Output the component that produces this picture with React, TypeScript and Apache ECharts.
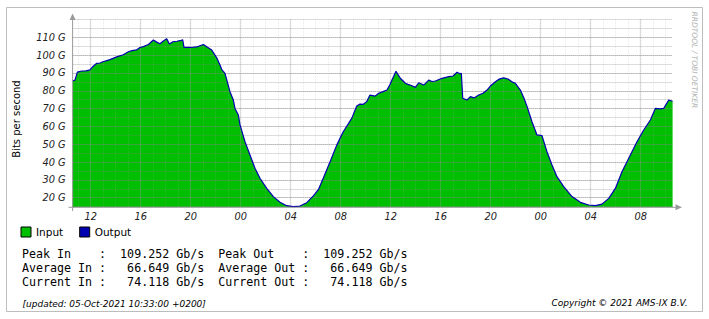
import React, { useEffect, useRef } from "react";
import * as echarts from "echarts";

// Time in hours since 03-Oct-2021 00:00, traffic in Gb/s
const hours = [
  10.55, 10.74, 10.93, 11.28, 11.62, 11.94, 12.16, 12.48, 12.74, 12.98, 13.54, 14.08, 14.6, 15.01, 15.3, 15.68,
  15.94, 16.21, 16.61, 17.01, 17.28, 17.54, 17.78, 18.08, 18.29, 18.58, 18.9, 19.14, 19.36, 19.46, 19.94, 20.48,
  20.74, 21.01, 21.28, 21.68, 22.08, 22.34, 22.5, 22.74, 23.14, 23.41, 23.54, 23.81, 23.94, 24.34, 24.74, 25.14,
  25.54, 26.08, 26.61, 27.14, 27.68, 28.21, 28.74, 29.28, 29.81, 30.21, 30.61, 31.14, 31.68, 32.2, 32.88, 33.28,
  33.54, 33.8, 34.08, 34.34, 34.74, 35.04, 35.38, 35.7, 35.94, 36.1, 36.42, 36.77, 37.17, 37.38, 37.7, 37.97,
  38.24, 38.64, 39.04, 39.3, 39.57, 40.1, 40.64, 40.99, 41.3, 41.54, 41.65, 41.76, 42.1, 42.37, 42.66, 43.04,
  43.38, 43.7, 44.02, 44.37, 44.66, 45.04, 45.38, 45.7, 45.97, 46.37, 46.66, 46.91, 47.3, 47.7, 48.1, 48.5,
  48.9, 49.3, 49.84, 50.5, 51.17, 51.84, 52.37, 52.9, 53.44, 53.97, 54.5, 55.04, 55.7, 56.24, 56.77, 57.17,
  57.54, 57.84, 58.24, 58.55,
];
const gbps = [
  85.5, 86.0, 90.5, 91.1, 91.2, 91.7, 93.5, 95.4, 95.6, 96.3, 97.5, 99.0, 100.2, 101.9, 102.5, 103.0,
  104.3, 104.8, 106.0, 108.5, 107.3, 106.4, 107.8, 109.25, 106.2, 107.5, 107.8, 108.1, 108.6, 104.4, 104.3, 104.6,
  105.3, 106.0, 104.7, 102.9, 98.5, 94.5, 91.7, 89.8, 79.5, 74.8, 70.1, 66.4, 61.0, 51.4, 44.0, 36.5,
  30.9, 25.2, 20.6, 17.4, 15.5, 15.0, 15.3, 17.2, 21.0, 24.5, 31.0, 40.0, 49.5, 57.0, 64.5, 71.5,
  72.5, 72.4, 73.9, 77.6, 77.0, 78.6, 79.5, 80.4, 83.5, 86.0, 90.9, 87.0, 84.2, 83.6, 82.8, 81.9,
  84.5, 83.2, 86.0, 85.2, 85.5, 87.0, 87.9, 88.3, 90.4, 89.5, 89.8, 75.8, 74.8, 76.7, 76.0, 77.6,
  78.6, 80.4, 83.0, 85.1, 86.5, 87.2, 86.6, 85.0, 84.2, 80.4, 75.8, 71.1, 62.6, 55.2, 54.8, 45.8,
  38.3, 31.8, 26.2, 20.6, 17.4, 15.9, 15.5, 16.4, 19.6, 25.2, 34.6, 42.1, 51.4, 58.0, 63.6, 70.1,
  69.8, 70.1, 74.8, 74.1,
];

const xTickLabels = ["12", "16", "20", "00", "04", "08", "12", "16", "20", "00", "04", "08"];
const yTickLabels = ["20 G", "30 G", "40 G", "50 G", "60 G", "70 G", "80 G", "90 G", "100 G", "110 G"];
const seriesNames = ["Input", "Output"];
const statNames = ["Peak", "Average", "Current"];
const inValues = ["109.252", "66.649", "74.118"];
const outValues = ["109.252", "66.649", "74.118"];
const updatedText = "[updated: 05-Oct-2021 10:33:00 +0200]";
const copyrightText = "Copyright \u00A9 2021 AMS-IX B.V.";
const sideText = "RRDTOOL / TOBI OETIKER";
const yTitle = "Bits per second";

// range
const T_START = 10.55;
const T_END = 58.55;
const Y_MIN = 14.6;
const Y_MAX = 120;

// layout
const PL = 72.6;
const PT = 19.5;
const PW = 600;
const PH = 187.8;
const pph = PW / (T_END - T_START);
const ppg = PH / (Y_MAX - Y_MIN);

const GREEN = "#00bf00";
const BLUE = "#0000b0";
const AXIS = "#9a9a9a";

export default function App() {
  const ref = useRef<HTMLDivElement>(null);
  useEffect(() => {
    if (!ref.current) return;
    const chart = echarts.init(ref.current, null, { renderer: "svg" });
    const data = hours.map((h, i) => [h, gbps[i]]);
    const nb = (s: string) => s.replace(/ /g, "\u00A0");
    const rows = statNames.map((n, i) =>
      nb(
        `${(n + " In").padEnd(11)}:${inValues[i].padStart(9)} Gb/s  ${(n + " Out").padEnd(12)}:${outValues[i].padStart(9)} Gb/s`
      )
    );
    const tickFont = { fontFamily: "DejaVu Sans", fontStyle: "italic" as const, fontSize: 9.8, color: "#222" };
    const hGrid = { color: "rgba(130,130,130,0.55)", width: 1, type: [1, 1] as number[] };

    const option: any = {
      animation: false,
      grid: [
        { left: PL, top: PT, width: PW, height: PH, outerBoundsMode: "none", containLabel: false },
        { left: PL + (11 - T_START) * pph, top: PT, width: (58 - 11) * pph, height: PH, outerBoundsMode: "none" },
        { left: PL + (12 - T_START) * pph, top: PT, width: (56 - 12) * pph, height: PH, outerBoundsMode: "none" },
        { left: PL, top: PT, width: PW, height: (Y_MAX - 15) * ppg, outerBoundsMode: "none" },
        { left: PL, top: PT + (Y_MAX - 110) * ppg, width: PW, height: (110 - 20) * ppg, outerBoundsMode: "none" },
      ],
      xAxis: [
        { gridIndex: 0, type: "value", min: T_START, max: T_END, show: false },
        {
          gridIndex: 1, type: "value", min: 11, max: 58, interval: 1, z: 3,
          axisLine: { show: false }, axisTick: { show: false }, axisLabel: { show: false },
          splitLine: { show: true, lineStyle: { color: "rgba(170,170,170,0.38)", width: 1, type: [1, 2] } },
        },
        {
          gridIndex: 2, type: "value", min: 12, max: 56, interval: 4, z: 3,
          axisLine: { show: false }, axisTick: { show: false },
          axisLabel: {
            show: true, margin: 4, ...tickFont,
            formatter: (v: number) => xTickLabels[Math.round((v - 12) / 4)] ?? "",
          },
          splitLine: { show: true, lineStyle: { color: "rgba(150,150,150,0.5)", width: 1.4, type: [1, 1] } },
        },
        { gridIndex: 3, type: "value", min: 0, max: 1, show: false },
        { gridIndex: 4, type: "value", min: 0, max: 1, show: false },
      ],
      yAxis: [
        { gridIndex: 0, type: "value", min: Y_MIN, max: Y_MAX, show: false },
        { gridIndex: 1, type: "value", min: 0, max: 1, show: false },
        { gridIndex: 2, type: "value", min: 0, max: 1, show: false },
        {
          gridIndex: 3, type: "value", min: 15, max: 120, interval: 5, z: 3,
          axisLine: { show: false }, axisTick: { show: false }, axisLabel: { show: false },
          splitLine: { show: true, lineStyle: hGrid },
        },
        {
          gridIndex: 4, type: "value", min: 20, max: 110, interval: 10, z: 3,
          axisLine: { show: false }, axisTick: { show: false },
          axisLabel: {
            show: true, margin: 7, ...tickFont,
            formatter: (v: number) => yTickLabels[Math.round((v - 20) / 10)] ?? "",
          },
          splitLine: { show: true, lineStyle: hGrid },
        },
      ],
      legend: {
        data: seriesNames,
        left: 20.5, top: 226.5, padding: 0,
        itemWidth: 10, itemHeight: 10, itemGap: 16, icon: "rect",
        itemStyle: { borderColor: "#000", borderWidth: 1 },
        textStyle: { fontFamily: "DejaVu Sans", fontSize: 10.5, color: "#000" },
      },
      series: [
        {
          name: seriesNames[0], type: "line", xAxisIndex: 0, yAxisIndex: 0, data,
          showSymbol: false, color: GREEN, z: 2,
          lineStyle: { width: 0, color: GREEN },
          areaStyle: { color: GREEN, opacity: 1, origin: "start" },
        },
        {
          name: seriesNames[1], type: "line", xAxisIndex: 0, yAxisIndex: 0, data,
          showSymbol: false, color: BLUE, z: 5,
          lineStyle: { width: 1.2, color: BLUE },
        },
      ],
      graphic: [
        { type: "rect", shape: { x: 6.5, y: 7.5, width: 696, height: 304 }, style: { fill: "none", stroke: "#bdbdbd", lineWidth: 1 }, z: 10 },
        { type: "line", shape: { x1: PL, y1: 19, x2: PL, y2: 211 }, style: { stroke: AXIS, lineWidth: 1 }, z: 10 },
        { type: "polygon", shape: { points: [[PL - 3, 20], [PL + 3, 20], [PL, 13.5]] }, style: { fill: AXIS }, z: 10 },
        { type: "line", shape: { x1: 68.5, y1: PT + PH, x2: 676, y2: PT + PH }, style: { stroke: AXIS, lineWidth: 1 }, z: 10 },
        { type: "polygon", shape: { points: [[675.5, PT + PH - 3], [675.5, PT + PH + 3], [682, PT + PH]] }, style: { fill: AXIS }, z: 10 },
        {
          type: "text", x: 16, y: 119, rotation: Math.PI / 2, z: 10,
          style: { text: yTitle, fill: "#000", font: '10px "DejaVu Sans"', textAlign: "center", textVerticalAlign: "middle" },
        },
        {
          type: "text", x: 694.5, y: 11.5, rotation: -Math.PI / 2, z: 10,
          style: { text: sideText, fill: "#b0b0b0", font: 'italic 7.5px "DejaVu Sans"', textAlign: "left", textVerticalAlign: "middle" },
        },
        ...rows.map((r, i) => ({
          type: "text", x: 22, y: 253.5 + i * 14, z: 10,
          style: { text: r, fill: "#000", font: '11.65px "DejaVu Sans Mono"', textAlign: "left", textVerticalAlign: "middle" },
        })),
        {
          type: "text", x: 22.5, y: 303.5, z: 10,
          style: { text: updatedText, fill: "#000", font: 'italic 9px "DejaVu Sans"', textAlign: "left", textVerticalAlign: "middle" },
        },
        {
          type: "text", x: 687.5, y: 303, z: 10,
          style: { text: copyrightText, fill: "#000", font: 'italic 9px "DejaVu Sans"', textAlign: "right", textVerticalAlign: "middle" },
        },
      ],
    };
    chart.setOption(option);
    return () => chart.dispose();
  }, []);
  return <div ref={ref} style={{ position: "absolute", left: 0, top: 0, width: 709, height: 319 }} />;
}
